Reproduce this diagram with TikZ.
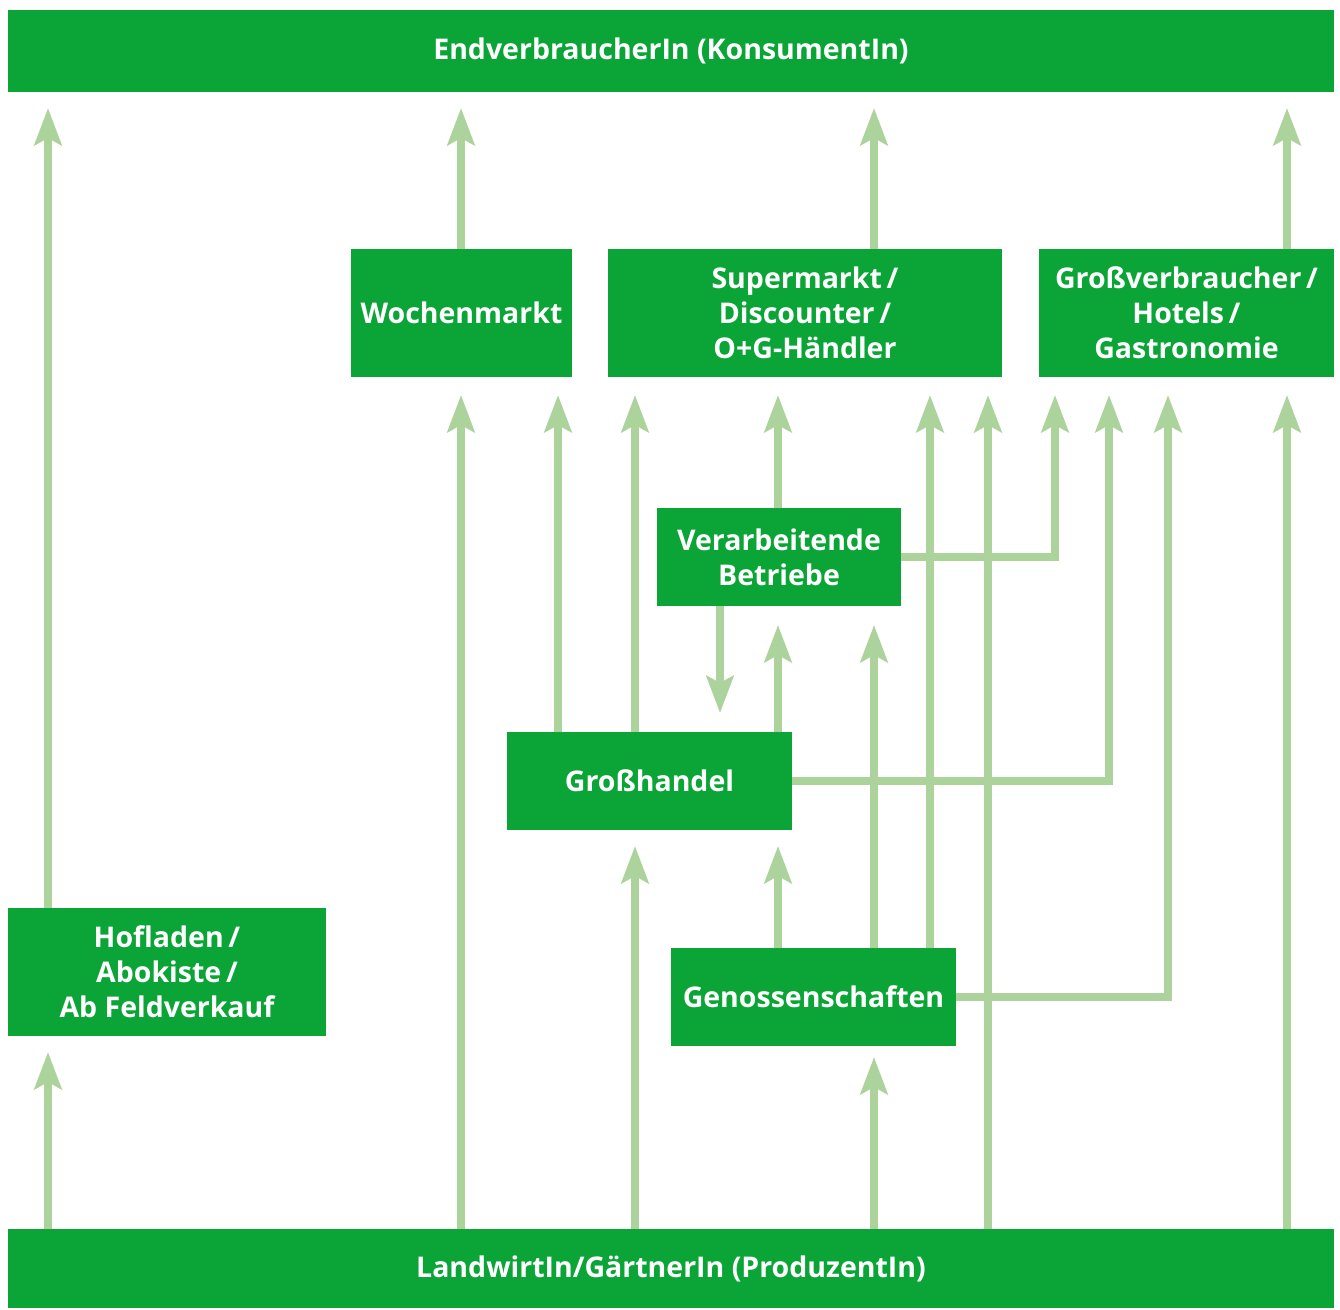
\documentclass[tikz,border=0pt]{standalone}
\usepackage{fontspec}
\setmainfont{Open Sans}
\usetikzlibrary{arrows.meta}
\definecolor{dg}{HTML}{0BA537}
\definecolor{lg}{HTML}{ADD39D}
\begin{document}
\begin{tikzpicture}[x=1pt,y=-1pt,
  box/.style={fill=dg,inner sep=0pt,text=white,align=center,
    font=\fontsize{28.5}{35}\selectfont\bfseries},
  arr/.style={draw=lg,line width=8pt,line join=miter,
    -{Stealth[length=37pt,width=27pt,inset=7pt]}}]
\useasboundingbox (0,0) rectangle (1340,1309);
\node[box,minimum width=1326pt,minimum height=82pt] (top) at (671,51) {EndverbraucherIn (KonsumentIn)};
\node[box,minimum width=1326pt,minimum height=79pt] (bot) at (671,1268.5) {LandwirtIn/GärtnerIn (ProduzentIn)};
\node[box,minimum width=221pt,minimum height=128pt] (woch) at (461.5,313) {Wochenmarkt};
\node[box,minimum width=394pt,minimum height=128pt] (super) at (805,313) {Supermarkt\,/\\Discounter\,/\\O+G-Händler};
\node[box,minimum width=295pt,minimum height=128pt] (gross) at (1186.5,313) {Großverbraucher\,/\\Hotels\,/\\Gastronomie};
\node[box,minimum width=244pt,minimum height=98pt] (verar) at (779,557) {Verarbeitende\\Betriebe};
\node[box,minimum width=285pt,minimum height=98pt] (handel) at (649.5,781) {Großhandel};
\node[box,minimum width=318pt,minimum height=128pt] (hof) at (167,972) {Hofladen\,/\\Abokiste\,/\\Ab Feldverkauf};
\node[box,minimum width=285pt,minimum height=98pt] (geno) at (813.5,997) {Genossenschaften};
\coordinate (r1) at (0,108);
\coordinate (r2) at (0,395);
\coordinate (r3) at (0,713);
\coordinate (r4) at (0,625);
\coordinate (r5) at (0,1052);
\coordinate (r6) at (0,846);
\coordinate (r7) at (0,1057);
% to consumer
\draw[arr] (hof.north -| 48,0) -- (r1 -| 48,0);
\draw[arr] (woch.north -| 461,0) -- (r1 -| 461,0);
\draw[arr] (super.north -| 874,0) -- (r1 -| 874,0);
\draw[arr] (gross.north -| 1287,0) -- (r1 -| 1287,0);
% to retail row
\draw[arr] (bot.north -| 48,0) -- (r5 -| 48,0);
\draw[arr] (bot.north -| 461,0) -- (r2 -| 461,0);
\draw[arr] (handel.north -| 558,0) -- (r2 -| 558,0);
\draw[arr] (handel.north -| 635,0) -- (r2 -| 635,0);
\draw[arr] (verar.north -| 778,0) -- (r2 -| 778,0);
\draw[arr] (geno.north -| 930,0) -- (r2 -| 930,0);
\draw[arr] (bot.north -| 988,0) -- (r2 -| 988,0);
\draw[arr] (verar.east) -| (r2 -| 1055,0);
\draw[arr] (handel.east) -| (r2 -| 1109,0);
\draw[arr] (geno.east) -| (r2 -| 1168,0);
\draw[arr] (bot.north -| 1287,0) -- (r2 -| 1287,0);
% middle
\draw[arr] (verar.south -| 720,0) -- (r3 -| 720,0);
\draw[arr] (handel.north -| 778,0) -- (r4 -| 778,0);
\draw[arr] (geno.north -| 874,0) -- (r4 -| 874,0);
\draw[arr] (bot.north -| 635,0) -- (r6 -| 635,0);
\draw[arr] (geno.north -| 778,0) -- (r6 -| 778,0);
\draw[arr] (bot.north -| 874,0) -- (r7 -| 874,0);
\end{tikzpicture}
\end{document}
